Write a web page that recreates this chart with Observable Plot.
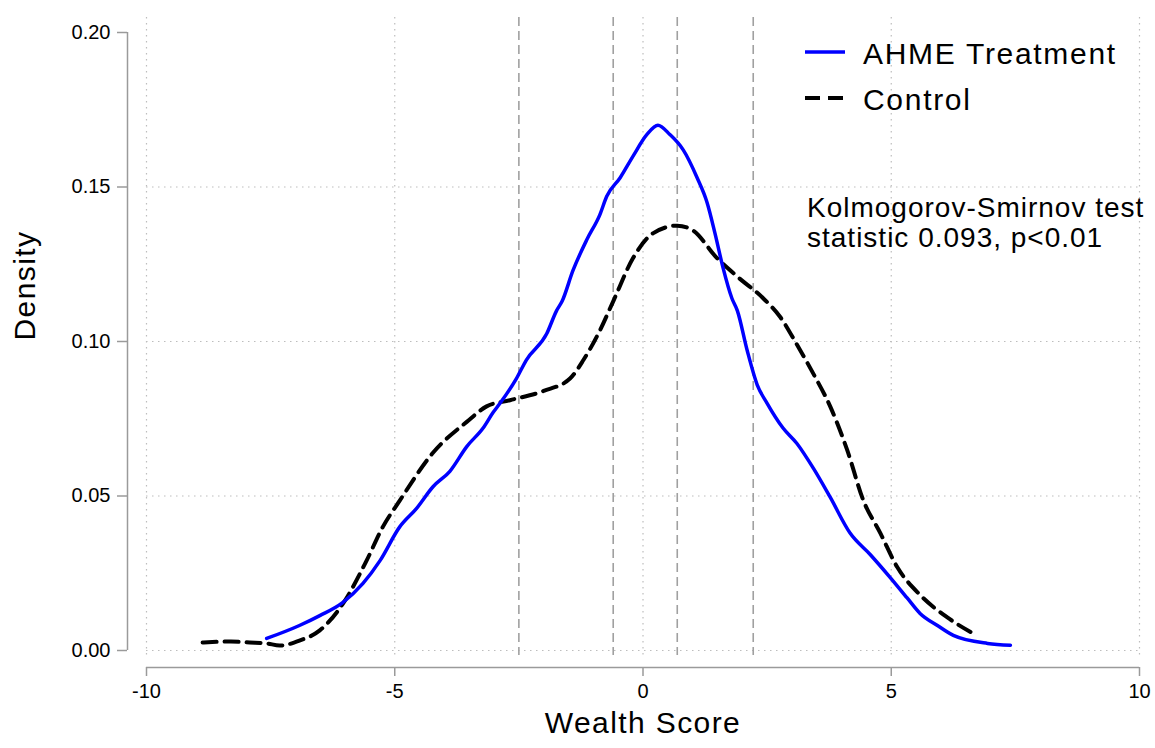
<!DOCTYPE html>
<html><head><meta charset="utf-8">
<script src="https://cdn.jsdelivr.net/npm/d3@7"></script>
<script src="https://cdn.jsdelivr.net/npm/@observablehq/plot@0.6"></script>
<style>
body{margin:0;background:#fff;}
#chart{position:relative;width:1155px;height:748px;}
</style></head><body><div id="chart"></div>
<script>
// AHME Treatment density
const treatX = [-7.58, -6.92, -6.51, -6.05, -5.64, -5.3, -4.9, -4.56, -4.23, -3.89, -3.55, -3.22, -3.02, -2.88, -2.55, -2.35, -1.94, -1.74, -1.63, -1.41, -1.13, -0.87, -0.73, -0.46, -0.2, 0.08, 0.3, 0.54, 0.81, 1.09, 1.29, 1.45, 1.61, 1.79, 1.9, 2.1, 2.3, 2.5, 2.82, 3.1, 3.43, 3.77, 4.17, 4.58, 4.98, 5.32, 5.58, 5.93, 6.25, 6.94, 7.4];
const treatY = [0.0039, 0.0081, 0.0113, 0.0155, 0.0217, 0.029, 0.040, 0.046, 0.053, 0.058, 0.066, 0.072, 0.077, 0.080, 0.088, 0.094, 0.1025, 0.110, 0.113, 0.123, 0.133, 0.141, 0.147, 0.153, 0.160, 0.167, 0.170, 0.167, 0.162, 0.153, 0.145, 0.135, 0.124, 0.114, 0.110, 0.097, 0.086, 0.080, 0.072, 0.067, 0.059, 0.0496, 0.038, 0.031, 0.0236, 0.017, 0.012, 0.0081, 0.0049, 0.0023, 0.0017];
// Control density
const controlX = [-8.87, -8.3, -7.92, -7.58, -7.32, -6.92, -6.51, -6.05, -5.57, -5.24, -4.9, -4.23, -3.55, -3.15, -2.68, -2.0, -1.47, -1.2, -0.87, -0.6, -0.2, 0.2, 0.69, 1.0, 1.49, 1.9, 2.42, 2.76, 3.1, 3.43, 3.77, 4.11, 4.44, 4.78, 5.12, 5.58, 6.13, 6.65];
const controlY = [0.0026, 0.0029, 0.0026, 0.0023, 0.0016, 0.0032, 0.0065, 0.015, 0.029, 0.040, 0.0485, 0.064, 0.074, 0.079, 0.081, 0.084, 0.088, 0.094, 0.1035, 0.113, 0.127, 0.135, 0.1375, 0.136, 0.127, 0.121, 0.114, 0.108, 0.099, 0.0896, 0.079, 0.065, 0.0485, 0.038, 0.027, 0.018, 0.0107, 0.0055];
const cutoffs = [-2.5, -0.6, 0.69, 2.22];
const xTicks = [-10, -5, 0, 5, 10];
const yTicks = [0, 0.05, 0.10, 0.15, 0.20];
const seriesNames = ["AHME Treatment", "Control"];
const ksText = ["Kolmogorov-Smirnov test", "statistic 0.093, p<0.01"];
const xLabel = "Wealth Score";
const yLabel = "Density";

const treat = treatX.map((x, i) => ({x, y: treatY[i]}));
const control = controlX.map((x, i) => ({x, y: controlY[i]}));
const font = "'Liberation Sans', Arial, Helvetica, sans-serif";
const axisGray = "#9a9a9a";

const plot = Plot.plot({
  width: 1155, height: 748,
  marginLeft: 146, marginRight: 16, marginTop: 17, marginBottom: 93,
  insetTop: 15, insetBottom: 5,
  style: {fontFamily: font, fontSize: "20px", background: "#fff", color: "#000"},
  x: {domain: [xTicks[0], xTicks[xTicks.length - 1]]},
  y: {domain: [yTicks[0], yTicks[yTicks.length - 1]]},
  marks: [
    Plot.gridX(xTicks, {stroke: "#bdbdbd", strokeOpacity: 1, strokeDasharray: "1.5,4.5", strokeWidth: 1.2}),
    Plot.gridY(yTicks.slice(0, 4), {stroke: "#bdbdbd", strokeOpacity: 1, strokeDasharray: "1.5,4.5", strokeWidth: 1.2}),
    Plot.ruleX(cutoffs, {stroke: "#a0a0a0", strokeDasharray: "9,5", strokeWidth: 1.6}),
    Plot.ruleY([yTicks[0]], {dy: 17, stroke: axisGray, strokeWidth: 1.5}),
    Plot.ruleX([xTicks[0]], {y1: yTicks[0], y2: yTicks[yTicks.length - 1], dx: -19, stroke: axisGray, strokeWidth: 1.5}),
    Plot.axisX({ticks: xTicks, tickFormat: d => String(d), dy: 12, tickSize: 9, tickPadding: 7, fontSize: 20, label: null, stroke: axisGray, fill: "#000", strokeWidth: 1.5}),
    Plot.axisY({ticks: yTicks, tickFormat: d3.format(".2f"), dx: -19, tickSize: 10, tickPadding: 7, fontSize: 20, label: null, stroke: axisGray, fill: "#000", strokeWidth: 1.5}),
    Plot.line(control, {x: "x", y: "y", stroke: "#000", strokeWidth: 4, strokeDasharray: "14,8", curve: "monotone-x"}),
    Plot.line(treat, {x: "x", y: "y", stroke: "#0000ff", strokeWidth: 3.5, curve: "monotone-x"}),
    Plot.text([yLabel], {frameAnchor: "left", rotate: -90, dx: -121, dy: 4, fontSize: 30, text: d => d, fill: "#000"}),
    Plot.text([xLabel], {frameAnchor: "bottom", dy: 77, fontSize: 30, text: d => d, fill: "#000"})
  ]
});
document.getElementById("chart").appendChild(plot);

const svg = d3.select(plot);
svg.selectAll("text").filter(function(){ return this.textContent === yLabel || this.textContent === xLabel; }).style("letter-spacing", "1.4px");

// legend
const leg = svg.append("g").attr("text-anchor", "start");
leg.append("line").attr("x1", 805).attr("x2", 845).attr("y1", 52).attr("y2", 52).attr("stroke", "#0000ff").attr("stroke-width", 3.5);
leg.append("line").attr("x1", 805).attr("x2", 846).attr("y1", 98).attr("y2", 98).attr("stroke", "#000").attr("stroke-width", 4).attr("stroke-dasharray", "15,8");
seriesNames.forEach((s, i) => {
  leg.append("text").attr("x", 863).attr("y", 64 + i * 46).attr("font-size", 30).attr("font-family", font)
    .attr("text-anchor", "start").style("letter-spacing", "1.7px").attr("fill", "#000").text(s);
});
ksText.forEach((s, i) => {
  leg.append("text").attr("x", 807).attr("y", 217 + i * 30).attr("font-size", 28).attr("font-family", font)
    .attr("text-anchor", "start").style("letter-spacing", "1.0px").attr("fill", "#000").text(s);
});
</script></body></html>
